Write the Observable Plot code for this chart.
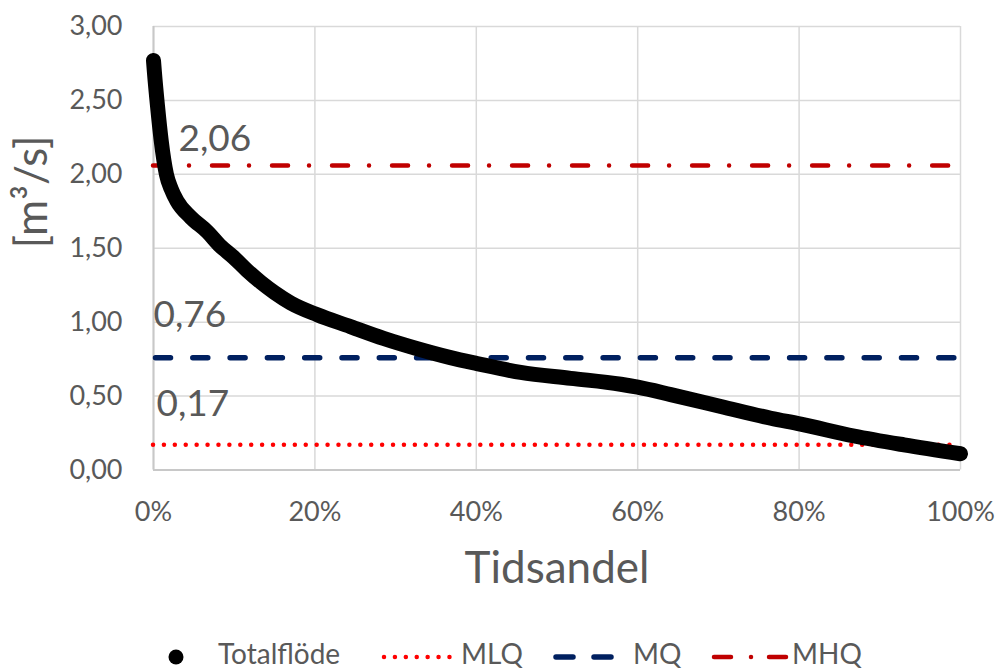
<!DOCTYPE html>
<html>
<head>
<meta charset="utf-8">
<script src="https://cdn.jsdelivr.net/npm/d3@7"></script>
<script src="https://cdn.jsdelivr.net/npm/@observablehq/plot@0.6"></script>
<style>
  html, body { margin: 0; padding: 0; background: #fff; }
  #wrap { position: relative; width: 998px; height: 669px; overflow: hidden; font-family: Lato, sans-serif; color: #595959; }
  #legend { position: absolute; left: 0; top: 620px; width: 998px; height: 49px; }
  #legend .t { position: absolute; font-size: 28px; line-height: 28px; height: 28px; top: 19px; color: #595959; white-space: nowrap; }
  #legend svg { position: absolute; }
</style>
</head>
<body>
<div id="wrap">
  <div id="chart"></div>
  <div id="legend"></div>
</div>
<script>
// Duration curve: time share (%) and total flow (m³/s)
const timeShare = [0, 0.1, 0.5, 0.95, 1.6, 2.2, 2.9, 4.6, 6.7, 8.2, 9.9, 11.6, 13.3, 15, 17, 20.3, 24.4, 28.5, 32.7, 36.8, 40.1, 45.5, 51.7, 57.9, 60, 64.1, 70.3, 76.5, 80.2, 86.8, 93, 100];
const totalFlow = [2.77, 2.70, 2.46, 2.23, 2.00, 1.90, 1.82, 1.71, 1.61, 1.52, 1.44, 1.35, 1.27, 1.20, 1.13, 1.05, 0.97, 0.89, 0.82, 0.76, 0.72, 0.66, 0.62, 0.58, 0.56, 0.51, 0.43, 0.35, 0.31, 0.23, 0.17, 0.11];

const refNames = ["MLQ", "MQ", "MHQ"];
const refValues = [0.17, 0.76, 2.06];
const refColors = ["#FF0000", "#002060", "#C00000"];

const xTicks = [0, 20, 40, 60, 80, 100];
const yTicks = [0, 0.5, 1, 1.5, 2, 2.5, 3];

const curve = timeShare.map((t, i) => ({t, q: totalFlow[i]}));
const fmt = v => v.toFixed(2).replace(".", ",");
const textColor = "#595959";

const refStyles = {
  MLQ: {strokeWidth: 4.5, strokeDasharray: "0.01,10.9", strokeLinecap: "round"},
  MQ: {strokeWidth: 5.5, strokeDasharray: "15,22.3", strokeLinecap: "round", strokeDashoffset: -2.5},
  MHQ: {strokeWidth: 4.5, strokeDasharray: "16,21,0.01,23", strokeLinecap: "round", strokeDashoffset: 1}
};

const refMarks = refNames.map((n, i) =>
  Plot.ruleY([refValues[i]], {stroke: refColors[i], ...refStyles[n]})
);

const labelOffsets = {MLQ: {dx: 3, dy: -41}, MQ: {dx: 0, dy: -42.5}, MHQ: {dx: 25, dy: -26.5}};
const labelMarks = refNames.map((n, i) =>
  Plot.text([refValues[i]], {
    x: () => 0, y: d => d, text: d => fmt(d),
    textAnchor: "start", fontSize: 37, fill: textColor,
    dx: labelOffsets[n].dx, dy: labelOffsets[n].dy
  })
);

const chart = Plot.plot({
  width: 998,
  height: 620,
  marginLeft: 153,
  marginRight: 38,
  marginTop: 26,
  marginBottom: 150.5,
  style: {fontFamily: "Lato, sans-serif", color: textColor, background: "#fff"},
  x: {domain: [0, 100]},
  y: {domain: [0, 3]},
  marks: [
    Plot.gridX(xTicks, {stroke: "#D9D9D9", strokeOpacity: 1, strokeWidth: 1.5}),
    Plot.gridY(yTicks, {stroke: "#D9D9D9", strokeOpacity: 1, strokeWidth: 1.5}),
    Plot.ruleX([0], {stroke: "#C8C8C8", strokeWidth: 2}),
    Plot.ruleY([0], {stroke: "#C8C8C8", strokeWidth: 2}),
    Plot.axisX(xTicks, {tickSize: 0, tickPadding: 32, fontSize: 27, fill: textColor, tickFormat: d => d + "%", label: null}),
    Plot.axisY(yTicks, {tickSize: 0, tickPadding: 31, fontSize: 27, fill: textColor, tickFormat: fmt, label: null}),
    Plot.text(["Tidsandel"], {frameAnchor: "bottom", lineAnchor: "middle", dy: 98.5, fontSize: 44, fill: textColor}),
    Plot.text(["[m³/s]"], {frameAnchor: "left", lineAnchor: "middle", dx: -121, rotate: -90, fontSize: 44, fill: textColor}),
    ...refMarks,
    Plot.line(curve, {x: "t", y: "q", stroke: "#000", strokeWidth: 15, strokeLinecap: "round", strokeLinejoin: "round", curve: "monotone-x"}),
    ...labelMarks
  ]
});
document.getElementById("chart").appendChild(chart);

// Legend (HTML below the SVG)
const legend = document.getElementById("legend");
const NS = "http://www.w3.org/2000/svg";
function icon(left, width, build) {
  const s = document.createElementNS(NS, "svg");
  s.setAttribute("width", width); s.setAttribute("height", 20);
  s.style.left = left + "px"; s.style.top = "27px";
  build(s); legend.appendChild(s);
}
function label(left, txt) {
  const d = document.createElement("div");
  d.className = "t"; d.style.left = left + "px"; d.textContent = txt;
  legend.appendChild(d);
}
icon(166, 20, s => {
  const c = document.createElementNS(NS, "circle");
  c.setAttribute("cx", 10); c.setAttribute("cy", 10); c.setAttribute("r", 7.5); c.setAttribute("fill", "#000");
  s.appendChild(c);
});
label(218, "Totalflöde");
const legendIcon = [
  {left: 381, width: 76, labelLeft: 461},
  {left: 553, width: 62, labelLeft: 633},
  {left: 711, width: 80, labelLeft: 792}
];
refNames.forEach((n, i) => {
  const L = legendIcon[i];
  icon(L.left, L.width, s => {
    const ln = document.createElementNS(NS, "line");
    ln.setAttribute("x1", 3); ln.setAttribute("x2", L.width - 3);
    ln.setAttribute("y1", 10); ln.setAttribute("y2", 10);
    ln.setAttribute("stroke", refColors[i]);
    const st = refStyles[n];
    ln.setAttribute("stroke-width", st.strokeWidth);
    ln.setAttribute("stroke-linecap", "round");
    if (n === "MQ") ln.setAttribute("stroke-dasharray", "17,21");
    else if (n === "MHQ") ln.setAttribute("stroke-dasharray", "17,20,0.01,18");
    else ln.setAttribute("stroke-dasharray", st.strokeDasharray);
    s.appendChild(ln);
  });
  label(L.labelLeft, n);
});
</script>
</body>
</html>
